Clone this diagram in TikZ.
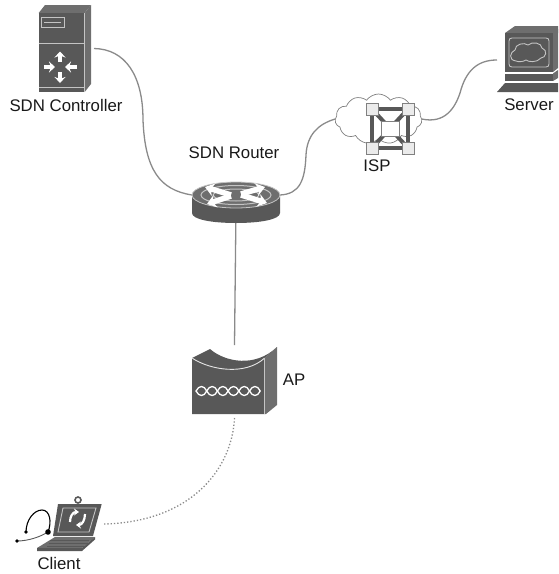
\documentclass[tikz,border=0pt]{standalone}
\usepackage{fontspec}
\setmainfont{Liberation Sans}
\usepackage{tikz}
\usetikzlibrary{shapes.symbols}
\usetikzlibrary{arrows.meta}
\definecolor{icondark}{HTML}{585858}
\definecolor{iconside}{HTML}{6E6E6E}
\definecolor{iconline}{HTML}{C4C4C4}
\definecolor{wiregray}{HTML}{8A8A8A}

\begin{document}
\begin{tikzpicture}[
        x=1pt,y=-1pt,
        hub/.style={inner sep=0pt, outer sep=0pt, minimum width=#1},
        wire/.style={draw=wiregray, line width=1.3pt},
        lbl/.style={font=\fontsize{16.8}{18}\selectfont, text=black!90, inner sep=0pt},
        face/.style={fill=icondark, draw=none},
        side/.style={fill=iconside, draw=none},
        glow/.style={draw=iconline, line width=0.9pt},
        whitearrow/.style={-{Stealth[length=6pt,width=11pt]}, draw=white, line width=3.6pt},
        routerarrow/.style={-{Stealth[length=9pt,width=13pt]}, draw=white, line width=5.5pt},
        cyclearrow/.style={-{Stealth[length=5pt,width=7pt]}, draw=white, line width=2.2pt},
        corner/.style={fill=white!92!black, draw=gray, line width=0.7pt},
        bar/.style={draw=icondark, line width=4pt},
    ]
    \useasboundingbox (0,0) rectangle (558,574);
    \node[hub=56pt, minimum height=87pt] (controller) at (66,48.5) {};
    \node[hub=88pt, minimum height=26pt] (router) at (236,195) {};
    \node[hub=85pt, minimum height=73pt] (ap) at (234.5,381.5) {};
    \node[hub=92pt, minimum height=54pt] (client) at (58,524) {};
    \node[hub=61pt, minimum height=66pt] (server) at (527.5,60) {};
    \node[cloud, cloud puffs=11, cloud puff arc=110, aspect=1.75, draw=gray, fill=white, line width=0.7pt,
          inner sep=0pt, outer sep=0pt, minimum width=87pt, minimum height=50pt] (isp) at (378.5,119) {};

    % Wires
    \draw[wire] (controller.east) .. controls (125,49) and (143,75) .. (143,120)
        .. controls (145,170) and (160,190) .. (router.west);
    \draw[wire] (router.east) .. controls (300,194) and (305,180) .. (306,155)
        .. controls (307,135) and (318,124) .. (isp.west);
    \draw[wire] (isp.east) .. controls (445,124) and (455,108) .. (460,93)
        .. controls (466,70) and (478,60) .. (server.west);
    \draw[wire] (router.south) -- (ap.north);
    \draw[wire, dotted] (ap.south) .. controls (232,470) and (190,522) .. (client.east);

    % Controller
    \fill[side] (84.7,13) -- (91,5) -- (91,84) -- (84.7,92) -- cycle;
    \fill[side] (38.7,13) -- (45,5) -- (91,5) -- (84.7,13) -- cycle;
    \fill[face] (38.7,13) rectangle (84.7,92);
    \draw[glow] (38.7,43.7) -- (84.7,43.7) (38.7,87) -- (84.7,87) (84.7,13) -- (84.7,92);
    \draw[glow] (41,17.5) rectangle (64,27.5) (44,22) -- (61,22);
    \draw[whitearrow] (60,62) -- (60,51.5);
    \draw[whitearrow] (60,72) -- (60,83);
    \draw[whitearrow] (44,67) -- (55,67);
    \draw[whitearrow] (77,67) -- (65,67);
    \node[lbl] (controllerlabel) at (66,105) {SDN Controller};

    % Router
    \fill[icondark] (192,195) -- (192,213) .. controls (192,219.5) and (212,223) .. (236,223)
        .. controls (260,223) and (280,219.5) .. (280,213) -- (280,195) -- cycle;
    \fill[iconside] (236,195) ellipse [x radius=44pt, y radius=13pt];
    \draw[glow, line width=0.8pt] (236,195) ellipse [x radius=44pt, y radius=13pt];
    \draw[glow, line width=1pt] (236,195) ellipse [x radius=35pt, y radius=9.5pt];
    \draw[glow, line width=1pt] (236,195) ellipse [x radius=23pt, y radius=6pt];
    \draw[routerarrow] (231,195) -- (205,187);
    \draw[routerarrow] (241,195) -- (267,203);
    \draw[routerarrow] (241,194) -- (265,187);
    \draw[routerarrow] (231,196) -- (207,204);
    \node[lbl] (routerlabel) at (234,153) {SDN Router};

    % ISP
    \foreach \a/\b in {372/109,408/109,372/148,408/148}
        \draw[bar] (\a,\b) -- (390,128.5);
    \draw[bar] (372,109) rectangle (408,148);
    \draw[corner, fill=white] (381,121) rectangle (399,136);
    \foreach \a/\b in {372/109,408/109,372/148,408/148}
        \draw[corner] (\a-6,\b-6) rectangle (\a+6,\b+6);
    \node[lbl] (isplabel) at (377,166) {ISP};

    % Server
    \fill[side] (505,33) -- (515,26) -- (558,26) -- (558,33) -- cycle;
    \fill[side] (553,33) -- (558,29) -- (558,68) -- (553,72) -- cycle;
    \fill[face] (505,33) rectangle (553,72);
    \draw[glow] (512,38) -- (546,38) .. controls (548,38) and (549,39) .. (549,41) -- (549,64)
        .. controls (549,66) and (548,67) .. (546,67) -- (512,67)
        .. controls (510,67) and (509,66) .. (509,64) -- (509,41)
        .. controls (509,39) and (510,38) .. (512,38) -- cycle;
    \draw[glow] (516,61) .. controls (508,60) and (510,52) .. (515,50)
        .. controls (515,44) and (524,42) .. (528,45)
        .. controls (532,41) and (542,43) .. (542,48)
        .. controls (548,50) and (546,58) .. (541,58)
        .. controls (537,63) and (528,62) .. (526,60)
        .. controls (523,62) and (518,62) .. (516,61) -- cycle;
    \fill[face] (505,73.5) rectangle (553,81);
    \fill[side] (553,73.5) -- (558,70) -- (558,78) -- (553,81) -- cycle;
    \fill[face] (497,92) -- (505,83) -- (558,83) -- (558,92) -- cycle;
    \node[lbl] (serverlabel) at (529,105) {Server};

    % AP
    \fill[side] (264.7,358) -- (277,347) -- (277,405) -- (266,414) -- (264.7,414) -- cycle;
    \fill[face] (192,358) -- (210,349) .. controls (225,362) and (255,368) .. (277,347)
        -- (264.7,358) -- (264.7,414) -- (192,414) -- cycle;
    \draw[glow, draw=white!90!black] (192,358) .. controls (210,370) and (245,376) .. (264.7,358);
    \draw[glow, line width=1.2pt] (264.7,358) -- (264.7,414);
    \foreach \i in {0,...,5}
        \draw[draw=white, line width=1.3pt] (196+\i*10.7,391)
            .. controls (199+\i*10.7,385) and (204+\i*10.7,385) .. (206.7+\i*10.7,391)
            .. controls (204+\i*10.7,397) and (199+\i*10.7,397) .. (196+\i*10.7,391) -- cycle;
    \node[lbl] (aplabel) at (294,380) {AP};

    % Client
    \draw[black, line width=1.1pt] (26,532) .. controls (26,520) and (34,510) .. (42,510)
        .. controls (50,510) and (52,522) .. (48,532);
    \draw[icondark, line width=0.9pt] (17,541) .. controls (28,541) and (40,537) .. (48,532);
    \fill[black] (26,532) circle [radius=1.8pt] (48,532) circle [radius=2.8pt] (17,541) circle [radius=1.8pt];
    \draw[icondark, line width=1.6pt] (78,500) circle [radius=3pt];
    \fill[face] (58,504) -- (101.7,504) -- (93,536) -- (53,536) -- cycle;
    \draw[glow] (63,508) -- (96,508) -- (89,532) -- (58,532) -- cycle;
    \fill[side] (55,537) -- (95,537) -- (82,548) -- (37,548) -- cycle;
    \fill[face] (37,548) -- (82,548) -- (95,537) -- (95,539.5) -- (82,551) -- (37,551) -- cycle;
    \foreach \y in {540,543,546}
        \draw[icondark, line width=0.5pt] (320-\y*0.5,\y) -- (359-\y*0.5,\y);
    \draw[cyclearrow] (70,522) .. controls (70,516) and (73,512) .. (79,512);
    \draw[cyclearrow] (85,514) .. controls (85,520) and (82,525) .. (76,525);
    \node[lbl] (clientlabel) at (59,563) {Client};
    \end{tikzpicture}
\end{document}
